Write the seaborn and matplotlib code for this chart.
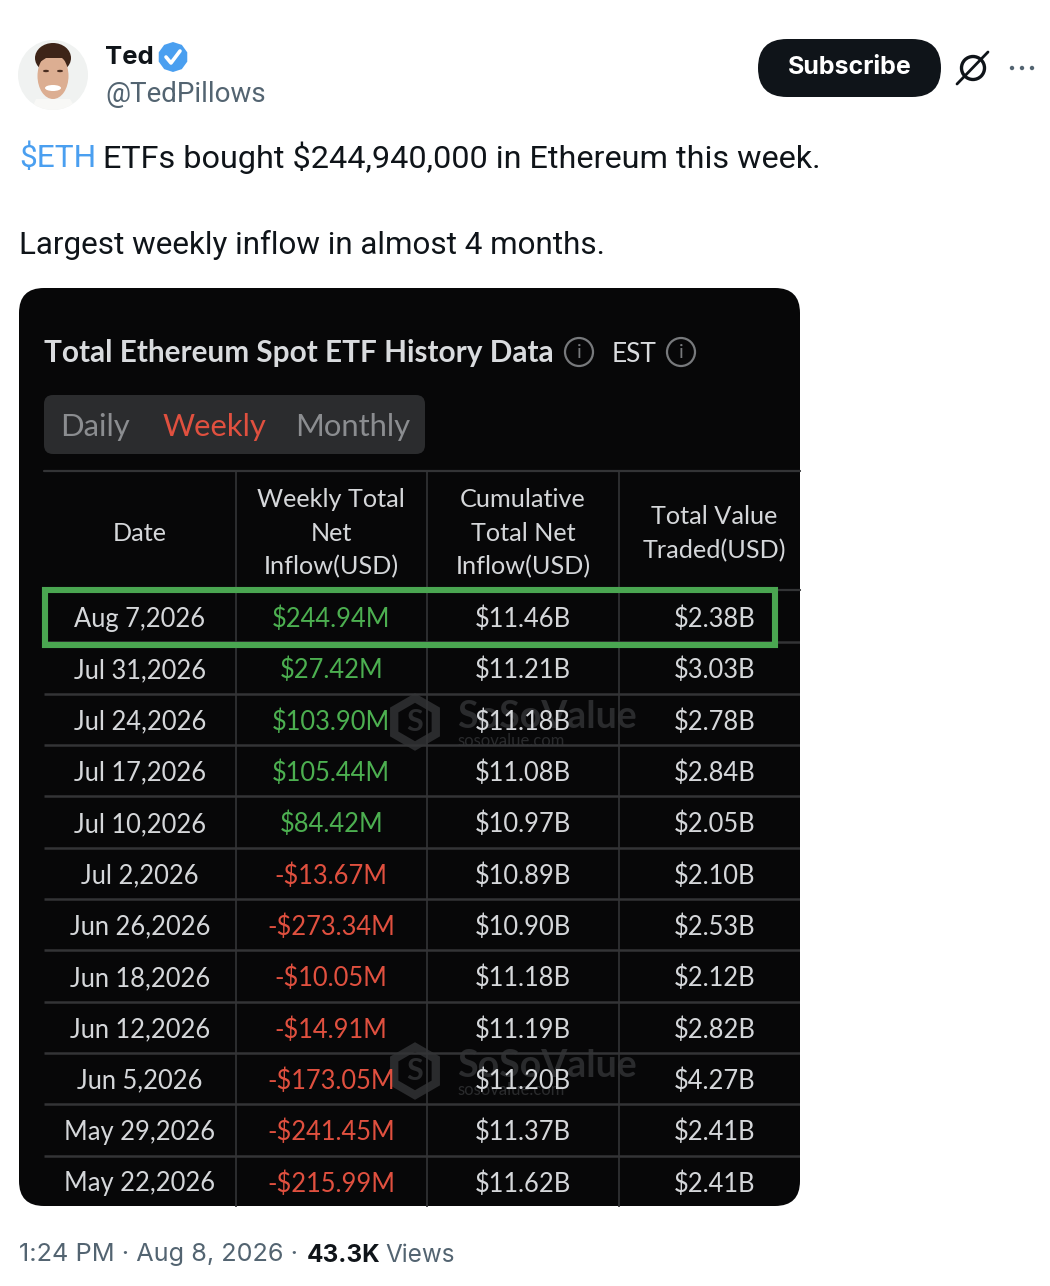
import numpy as np
import pandas as pd
import seaborn as sns
import matplotlib
matplotlib.use("Agg")
import matplotlib.pyplot as plt
from matplotlib.colors import ListedColormap
from matplotlib.patches import FancyBboxPatch, Circle, Ellipse, RegularPolygon, Polygon

# ---- data ----
dates = ["Aug 7,2026", "Jul 31,2026", "Jul 24,2026", "Jul 17,2026", "Jul 10,2026", "Jul 2,2026",
         "Jun 26,2026", "Jun 18,2026", "Jun 12,2026", "Jun 5,2026", "May 29,2026", "May 22,2026"]
weekly = ["$244.94M", "$27.42M", "$103.90M", "$105.44M", "$84.42M", "-$13.67M",
          "-$273.34M", "-$10.05M", "-$14.91M", "-$173.05M", "-$241.45M", "-$215.99M"]
cumulative = ["$11.46B", "$11.21B", "$11.18B", "$11.08B", "$10.97B", "$10.89B",
              "$10.90B", "$11.18B", "$11.19B", "$11.20B", "$11.37B", "$11.62B"]
traded = ["$2.38B", "$3.03B", "$2.78B", "$2.84B", "$2.05B", "$2.10B",
          "$2.53B", "$2.12B", "$2.82B", "$4.27B", "$2.41B", "$2.41B"]
headers = ["Date", "Weekly Total\nNet\nInflow(USD)", "Cumulative\nTotal Net\nInflow(USD)", "Total Value\nTraded(USD)"]

W, H = 1050, 1286
INK, GREY, BLUE = "#0f1419", "#536471", "#4a9ff0"
LINE = "#333436"
CELL = "#d5d7da"
GREEN, RED = "#4caf50", "#e0503f"
TAB = "Lato"
UI = "Inter"
POST = "Roboto"

sns.set_theme(style="white")
fig = plt.figure(figsize=(W / 100, H / 100), dpi=100, facecolor="white")

base = fig.add_axes([0, 0, 1, 1])
base.set_xlim(0, W)
base.set_ylim(H, 0)
base.axis("off")


def axes_px(x0, y0, x1, y1, z):
    return fig.add_axes([x0 / W, 1 - y1 / H, (x1 - x0) / W, (y1 - y0) / H], zorder=z)


def pill(x0, y0, x1, y1, r, color, z=1):
    base.add_patch(FancyBboxPatch((x0 + r, y0 + r), x1 - x0 - 2 * r, y1 - y0 - 2 * r,
                                  boxstyle=f"round,pad={r},rounding_size={r}",
                                  fc=color, ec="none", zorder=z))


# avatar
avatar_bg = Circle((53, 75), 35, fc="#f0f2f1", ec="none", zorder=1)
base.add_patch(avatar_bg)
avatar_parts = [
    Polygon([[30, 112], [36, 99], [70, 99], [78, 112]], fc="#f8f8f6", ec="none", zorder=2),
    Ellipse((53, 58), 36, 30, fc="#3d2418", ec="none", zorder=2),
    Ellipse((53, 76), 31, 46, fc="#dcae92", ec="none", zorder=3),
    Polygon([[37, 64], [42, 52], [60, 50], [69, 64], [62, 58], [46, 58]], fc="#3d2418", ec="none", zorder=4),
    Ellipse((53, 88), 16, 6, fc="#ffffff", ec="none", zorder=4),
    Ellipse((46, 71), 6, 2.4, fc="#4a2d20", ec="none", zorder=4),
    Ellipse((60, 71), 6, 2.4, fc="#4a2d20", ec="none", zorder=4),
]
for part in avatar_parts:
    base.add_patch(part)
    part.set_clip_path(avatar_bg)

# name row
base.text(105, 58, "Ted", family=UI, fontsize=18.5, fontweight="bold", color=INK, va="center", zorder=5)
base.add_patch(RegularPolygon((173, 57), 10, radius=15, fc="#4a9ff0", ec="none", zorder=5))
base.plot([166, 171, 180], [57, 63, 51], color="white", lw=2.6, zorder=6)
base.text(105, 94, "@TedPillows", family=POST, fontsize=20, color=GREY, va="center", zorder=5)

# subscribe
pill(758, 39, 941, 97, 29, INK)
base.text(849.5, 68, "Subscribe", family=UI, fontsize=18, fontweight="bold", color="white",
          ha="center", va="center", zorder=5)
base.add_patch(Circle((973, 68), 11.5, fc="none", ec=INK, lw=2.4, zorder=5))
base.plot([957, 988], [84, 52], color=INK, lw=2, zorder=5)
for x in (1012, 1022, 1032):
    base.add_patch(Circle((x, 68), 2.2, fc=GREY, ec="none", zorder=5))

# tweet text
base.text(19, 158, "$ETH", family=POST, fontsize=22.7, color=BLUE, va="center", zorder=5)
base.text(103, 158, "ETFs bought $244,940,000 in Ethereum this week.", family=POST, fontsize=23.3,
          color=INK, va="center", zorder=5)
base.text(19, 245, "Largest weekly inflow in almost 4 months.", family=POST, fontsize=22.6,
          color=INK, va="center", zorder=5)

# card
pill(19, 288, 800, 1206, 25, "#070708")
base.text(44, 353, "Total Ethereum Spot ETF History Data", family=TAB, fontsize=21.4, fontweight="bold",
          color="#d9dbde", va="center", zorder=5)
base.text(612, 354, "EST", family=TAB, fontsize=19, color="#d9dbde", va="center", zorder=5)
for cx in (579, 681):
    base.add_patch(Circle((cx, 352), 14, fc="none", ec="#77797c", lw=1.6, zorder=5))
    base.text(cx, 352, "i", family=TAB, fontsize=14, color="#77797c", ha="center", va="center", zorder=5)
pill(44, 395, 425, 454, 9, "#2b2c2e", z=2)
base.text(60, 427, "Daily", family=TAB, fontsize=22.3, color="#8b8d90", va="center", zorder=5)
base.text(163, 427, "Weekly", family=TAB, fontsize=22.3, color=RED, va="center", zorder=5)
base.text(295, 427, "Monthly", family=TAB, fontsize=22.3, color="#8b8d90", va="center", zorder=5)

# watermarks
WM = "#2a2b2d"
for wx, wy in ((415, 722), (415, 1071)):
    base.add_patch(RegularPolygon((wx, wy), 6, radius=24, fc="none", ec=WM, lw=6, zorder=3))
    base.text(wx, wy, "S", family=TAB, fontsize=22, fontweight="bold", color=WM, ha="center", va="center", zorder=3)
    base.text(wx + 42, wy - 5, "SoSoValue", family=TAB, fontsize=27, fontweight="bold", color=WM, va="center", zorder=3)
    base.text(wx + 42, wy + 19, "sosovalue.com", family=TAB, fontsize=12, color=WM, va="center", zorder=3)

clear = ListedColormap([(0, 0, 0, 0)])

# header: one-row heatmap
head_ax = axes_px(44, 471, 800, 590, 2)
head_ax.patch.set_alpha(0)
head_values = pd.DataFrame([np.zeros(len(headers))], columns=headers)
sns.heatmap(head_values, ax=head_ax, cmap=clear, cbar=False, linewidths=0,
            annot=np.array([headers]), fmt="", xticklabels=False, yticklabels=False,
            annot_kws={"family": TAB, "fontsize": 18.2, "color": CELL, "linespacing": 1.55})
head_ax.set_xlim(0, 3.947)
for txt in head_ax.texts:
    txt.set_y(txt.get_position()[1] + 0.025)

# body: twelve-row heatmap
table = pd.DataFrame({"Date": dates, "Weekly": weekly, "Cumulative": cumulative, "Traded": traded})
body_ax = axes_px(44, 591, 800, 1207, 2)
body_ax.patch.set_alpha(0)
sns.heatmap(np.zeros(table.shape), ax=body_ax, cmap=clear, cbar=False, linewidths=0,
            annot=table.values, fmt="", xticklabels=False, yticklabels=False,
            annot_kws={"family": TAB, "fontsize": 18.4, "color": CELL})
body_ax.set_xlim(0, 3.947)
n_col = table.shape[1]
for i, txt in enumerate(body_ax.texts):
    r, c = divmod(i, n_col)
    txt.set_y(txt.get_position()[1] + 0.05)
    if c == 1:
        txt.set_color(RED if weekly[r].startswith("-") else GREEN)

# grid lines
base.plot([44, 800], [471, 471], color=LINE, lw=1.6, zorder=4)
base.plot([44, 800], [590, 590], color=LINE, lw=1.6, zorder=4)
body_ax.hlines(np.arange(1, len(dates)), 0, 3.947, color=LINE, lw=1.8)
body_ax.vlines([1, 2, 3], 0, len(dates), color=LINE, lw=1.2)
head_ax.vlines([1, 2, 3], 0, 1, color=LINE, lw=1.2)

# highlight box
top = fig.add_axes([0, 0, 1, 1], zorder=5)
top.set_xlim(0, W)
top.set_ylim(H, 0)
top.axis("off")
top.add_patch(plt.Rectangle((45, 590), 730, 55, fc="none", ec="#4aa651", lw=4.4))

# footer
base.text(19, 1255, "1:24 PM · Aug 8, 2026 ·", family=UI, fontsize=18.2, color=GREY, va="center", zorder=5)
base.text(307, 1255, "43.3K", family=UI, fontsize=17.5, fontweight="bold", color=INK, va="center", zorder=5)
base.text(385, 1255, "Views", family=UI, fontsize=17.5, color=GREY, va="center", zorder=5)

fig.savefig("out.png", dpi=100, facecolor="white")
